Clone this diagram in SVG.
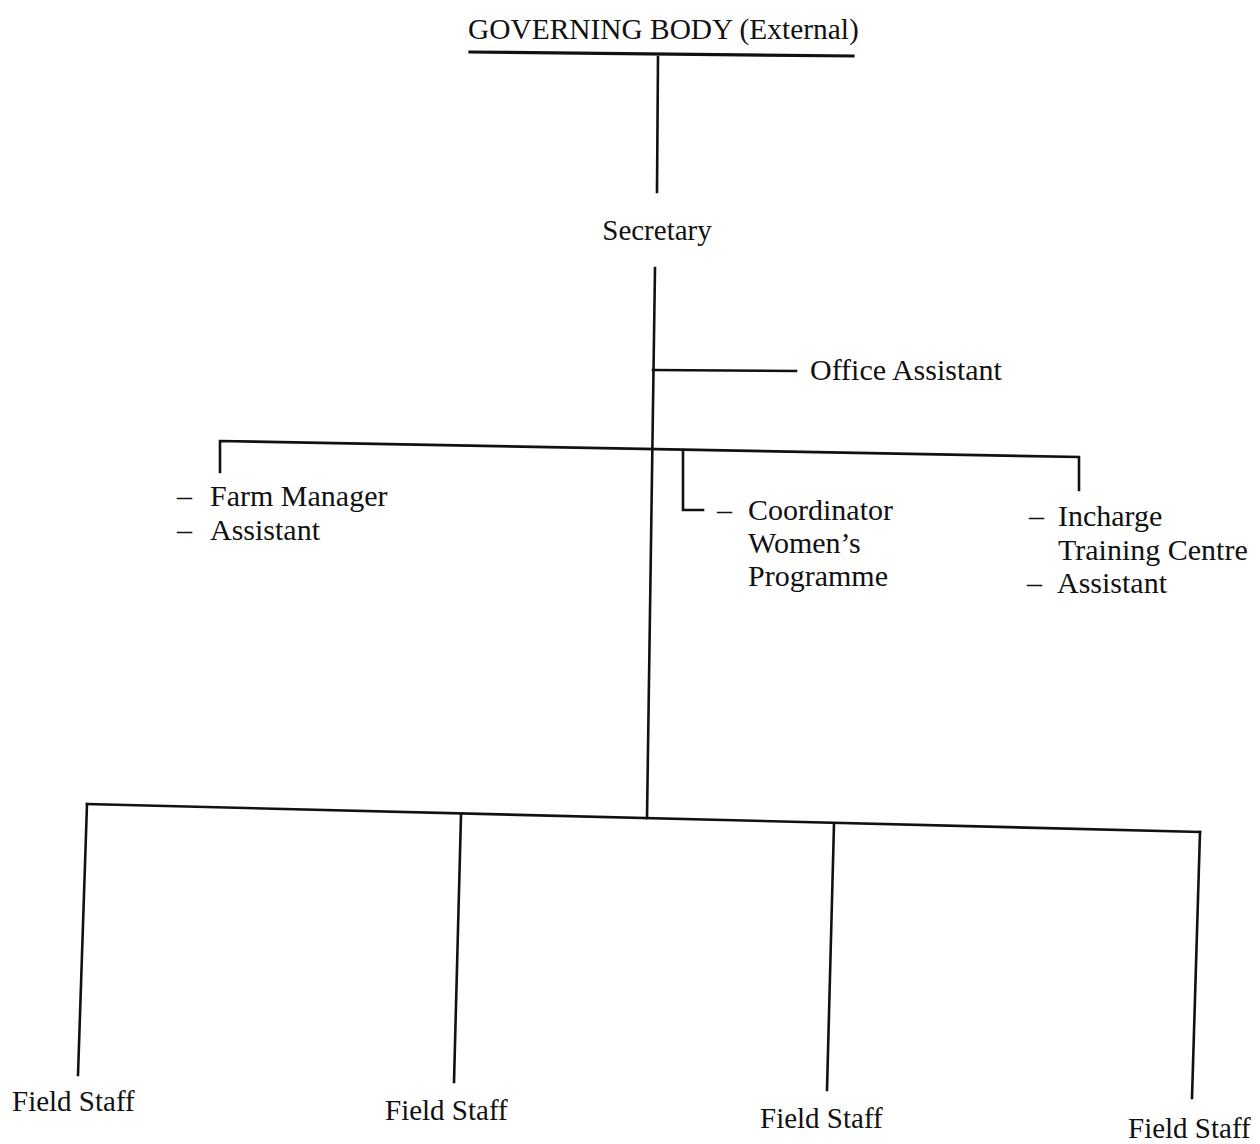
<svg xmlns="http://www.w3.org/2000/svg" width="1260" height="1144" viewBox="0 0 1260 1144">
<style>
text{font-family:"Liberation Serif","Times New Roman",serif;font-size:29px;fill:#111}
.m{font-size:30px}
.ln{stroke:#111;stroke-width:2.6;fill:none;stroke-linecap:square}
</style>
<rect width="1260" height="1144" fill="#fff"/>
<g id="connectors">
<line class="ln" x1="470" y1="52" x2="853" y2="56" style="stroke-width:3.2"/>
<line class="ln" x1="658" y1="57" x2="657" y2="192"/>
<line class="ln" x1="655" y1="268" x2="647" y2="818"/>
<line class="ln" x1="653" y1="370" x2="796" y2="371"/>
<polyline class="ln" points="220,472 220,441 1079,457 1079,490"/>
<polyline class="ln" points="683,450 683,510 703,510"/>
<line class="ln" x1="87" y1="804" x2="1200" y2="832"/>
<line class="ln" x1="87" y1="804" x2="78" y2="1075"/>
<line class="ln" x1="461" y1="815" x2="454" y2="1082"/>
<line class="ln" x1="834" y1="824" x2="827" y2="1090"/>
<line class="ln" x1="1200" y1="832" x2="1192" y2="1098"/>
</g>
<g id="governing-body"><text x="468" y="39" style="font-size:29.4px">GOVERNING BODY (External)</text></g>
<g id="secretary"><text x="657" y="240" text-anchor="middle">Secretary</text></g>
<g id="office-assistant"><text class="m" x="810" y="380">Office Assistant</text></g>
<g id="farm-manager"><text class="m" y="506"><tspan x="177">–</tspan><tspan x="210">Farm Manager</tspan></text><text class="m" y="540"><tspan x="177">–</tspan><tspan x="210">Assistant</tspan></text></g>
<g id="coordinator"><text class="m" y="520"><tspan x="717">–</tspan><tspan x="748">Coordinator</tspan></text><text class="m" x="748" y="553">Women’s</text><text class="m" x="748" y="586">Programme</text></g>
<g id="incharge"><text class="m" y="526"><tspan x="1029">–</tspan><tspan x="1058">Incharge</tspan></text><text class="m" x="1058" y="560">Training Centre</text><text class="m" y="593"><tspan x="1027">–</tspan><tspan x="1057">Assistant</tspan></text></g>
<g id="field-staff-1"><text x="12" y="1111">Field Staff</text></g>
<g id="field-staff-2"><text x="385" y="1120">Field Staff</text></g>
<g id="field-staff-3"><text x="760" y="1128">Field Staff</text></g>
<g id="field-staff-4"><text x="1128" y="1138">Field Staff</text></g>
</svg>
